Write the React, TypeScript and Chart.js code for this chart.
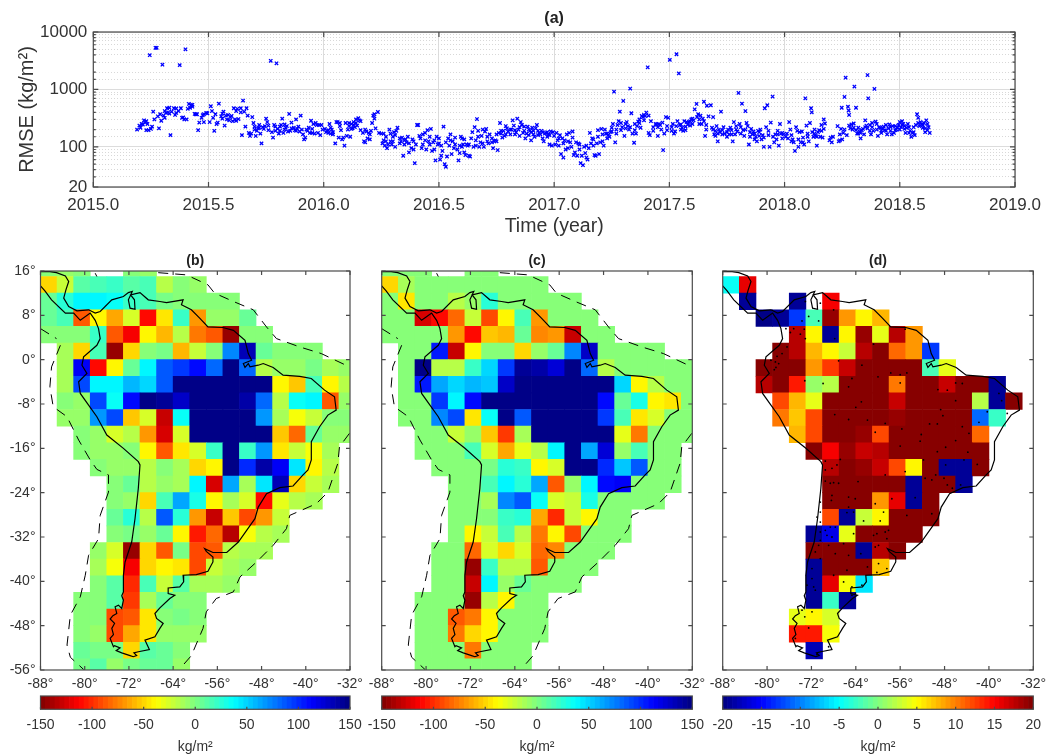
import React, { useEffect, useRef } from "react";
import { Chart, registerables } from "chart.js";

Chart.register(...registerables);
Chart.defaults.font.family = "'Liberation Sans', Arial, sans-serif";

const TEXT = "#333333";
const _ = null;

// ---------- Panel (a): RMSE time series [year, kg/m2] ----------
const rmse2015 = [
  [2015.19,200],[2015.2,235],[2015.205,215],[2015.21,250],[2015.215,245],[2015.22,290],[2015.225,265],[2015.23,195],[2015.235,250],[2015.24,195],
  [2015.245,3950],[2015.25,205],[2015.255,225],[2015.26,410],[2015.265,300],[2015.27,5300],[2015.275,5300],[2015.28,340],[2015.285,210],[2015.29,370],
  [2015.295,285],[2015.3,2700],[2015.305,350],[2015.31,320],[2015.315,390],[2015.32,470],[2015.325,400],[2015.33,380],[2015.335,160],[2015.34,410],
  [2015.35,470],[2015.355,360],[2015.36,465],[2015.37,420],[2015.375,2650],[2015.38,470],[2015.385,320],[2015.39,325],[2015.395,300],[2015.4,5000],
  [2015.405,300],[2015.41,460],[2015.415,560],[2015.42,480],[2015.425,530],[2015.43,500],[2015.44,375],[2015.445,370],[2015.45,370],[2015.455,195],
  [2015.46,265],[2015.47,320],[2015.475,355],[2015.48,270],[2015.49,390],[2015.495,385],[2015.505,270],[2015.51,510],[2015.515,420],[2015.52,320],
  [2015.525,190],[2015.535,250],[2015.54,265],[2015.545,565],[2015.555,340],[2015.56,310],[2015.565,410],[2015.57,235],[2015.575,350],[2015.58,300],
  [2015.585,360],[2015.595,330],[2015.6,345],[2015.605,280],[2015.61,470],[2015.615,300],[2015.62,285],[2015.625,460],[2015.63,305],[2015.64,400],
  [2015.645,160],[2015.65,640],[2015.655,410],[2015.66,225],[2015.665,470],[2015.67,350],[2015.675,175],[2015.68,155],[2015.685,170],[2015.69,330],
  [2015.695,260],[2015.7,225],[2015.705,155],[2015.71,190],[2015.715,210],[2015.72,215],[2015.725,170],[2015.73,115],[2015.735,220],[2015.74,205],
  [2015.745,230],[2015.75,310],[2015.755,270],[2015.76,195],[2015.77,3150],[2015.775,180],[2015.78,145],[2015.785,240],[2015.79,225],[2015.795,2850],
  [2015.8,205],[2015.805,170],[2015.81,190],[2015.815,240],[2015.82,310],[2015.825,175],[2015.83,200],[2015.835,215],[2015.84,230],[2015.845,185],
  [2015.85,375],[2015.855,190],[2015.86,265],[2015.87,215],[2015.875,195],[2015.88,300],[2015.885,205],[2015.89,225],[2015.895,185],[2015.9,350],
  [2015.905,200],[2015.91,165],[2015.915,135],[2015.92,145],[2015.925,200],[2015.935,215],[2015.94,175],[2015.945,285],[2015.95,205],[2015.955,250],
  [2015.96,170],[2015.965,260],[2015.97,240],[2015.975,175],[2015.98,240],[2015.985,160],[2015.99,240],[2015.995,200],
];
const rmse2016 = [
  [2016.005,205],[2016.01,180],[2016.015,190],[2016.02,175],[2016.025,250],[2016.03,170],[2016.035,200],[2016.04,180],[2016.05,115],[2016.055,270],
  [2016.06,270],[2016.065,145],[2016.07,230],[2016.075,195],[2016.08,135],[2016.085,145],[2016.09,105],[2016.095,260],[2016.1,155],[2016.105,200],
  [2016.11,230],[2016.115,150],[2016.12,250],[2016.125,210],[2016.13,270],[2016.135,220],[2016.14,300],[2016.145,235],[2016.15,315],[2016.155,290],
  [2016.16,195],[2016.17,175],[2016.175,125],[2016.18,120],[2016.185,185],[2016.19,140],[2016.195,175],[2016.2,135],[2016.205,190],[2016.21,260],
  [2016.215,350],[2016.22,370],[2016.225,210],[2016.235,405],[2016.24,175],[2016.25,170],[2016.255,115],[2016.26,170],[2016.265,105],[2016.27,150],
  [2016.275,95],[2016.28,110],[2016.285,200],[2016.29,125],[2016.295,110],[2016.3,150],[2016.305,180],[2016.31,100],[2016.315,190],[2016.32,215],
  [2016.33,140],[2016.335,125],[2016.34,145],[2016.345,70],[2016.35,110],[2016.355,135],[2016.36,120],[2016.365,150],[2016.37,80],[2016.38,95],
  [2016.385,135],[2016.39,90],[2016.395,52],[2016.4,110],[2016.405,240],[2016.41,240],[2016.415,155],[2016.42,140],[2016.425,95],[2016.43,165],
  [2016.44,175],[2016.445,90],[2016.45,195],[2016.455,125],[2016.46,110],[2016.465,205],[2016.47,85],[2016.475,120],[2016.48,90],[2016.485,58],
  [2016.49,150],[2016.495,110],[2016.5,115],[2016.505,60],[2016.51,70],[2016.515,85],[2016.52,225],[2016.525,50],[2016.53,45],[2016.535,68],
  [2016.54,140],[2016.545,105],[2016.55,165],[2016.555,75],[2016.56,125],[2016.565,95],[2016.57,145],[2016.58,90],[2016.585,58],[2016.59,78],
  [2016.595,150],[2016.6,140],[2016.605,110],[2016.61,80],[2016.615,72],[2016.62,110],[2016.625,105],[2016.63,70],[2016.635,68],[2016.64,140],
  [2016.645,180],[2016.65,100],[2016.655,220],[2016.66,105],[2016.665,305],[2016.67,190],[2016.675,100],[2016.68,120],[2016.685,155],[2016.69,200],
  [2016.695,100],[2016.7,185],[2016.705,205],[2016.71,125],[2016.715,115],[2016.72,165],[2016.73,120],[2016.735,95],[2016.74,125],[2016.745,130],
  [2016.75,165],[2016.755,88],[2016.76,175],[2016.765,260],[2016.77,170],[2016.775,145],[2016.78,190],[2016.785,155],[2016.79,230],[2016.795,210],
  [2016.8,185],[2016.81,165],[2016.815,200],[2016.82,290],[2016.825,235],[2016.83,195],[2016.835,180],[2016.84,310],[2016.845,200],[2016.85,155],
  [2016.855,270],[2016.86,240],[2016.865,175],[2016.87,225],[2016.875,140],[2016.88,170],[2016.885,225],[2016.89,200],[2016.895,190],[2016.9,130],
  [2016.905,215],[2016.91,165],[2016.915,150],[2016.92,210],[2016.925,240],[2016.93,190],[2016.935,175],[2016.94,165],[2016.945,190],[2016.95,180],
  [2016.955,125],[2016.96,170],[2016.965,175],[2016.97,150],[2016.975,165],[2016.98,110],[2016.985,185],[2016.99,105],[2016.995,180],
];
const rmse2017 = [
  [2017.005,110],[2017.01,175],[2017.015,130],[2017.02,105],[2017.025,160],[2017.03,75],[2017.035,140],[2017.04,65],[2017.045,130],[2017.05,90],
  [2017.055,165],[2017.06,95],[2017.065,175],[2017.07,120],[2017.075,100],[2017.08,185],[2017.085,72],[2017.09,80],[2017.095,120],[2017.1,70],
  [2017.105,115],[2017.11,90],[2017.115,52],[2017.12,70],[2017.125,48],[2017.13,100],[2017.135,78],[2017.14,65],[2017.145,60],[2017.15,95],
  [2017.155,175],[2017.16,115],[2017.165,140],[2017.17,135],[2017.175,72],[2017.18,70],[2017.185,115],[2017.19,195],[2017.195,75],[2017.2,120],
  [2017.205,205],[2017.21,125],[2017.215,105],[2017.22,200],[2017.225,170],[2017.23,140],[2017.235,160],[2017.24,150],[2017.245,180],[2017.25,185],
  [2017.255,250],[2017.26,915],[2017.265,120],[2017.27,170],[2017.275,240],[2017.28,280],[2017.285,410],[2017.29,260],[2017.295,220],[2017.3,630],
  [2017.305,155],[2017.31,210],[2017.315,270],[2017.32,230],[2017.325,200],[2017.33,1035],[2017.335,385],[2017.34,170],[2017.347,118],[2017.35,250],
  [2017.355,170],[2017.36,230],[2017.365,275],[2017.37,300],[2017.375,215],[2017.38,345],[2017.385,330],[2017.39,360],[2017.395,345],[2017.4,395],
  [2017.406,2430],[2017.41,175],[2017.415,160],[2017.42,280],[2017.43,190],[2017.44,250],[2017.445,245],[2017.45,155],[2017.455,250],[2017.46,240],
  [2017.465,200],[2017.473,88],[2017.478,170],[2017.485,330],[2017.49,195],[2017.495,320],[2017.502,3270],[2017.51,220],[2017.515,250],[2017.52,170],
  [2017.525,185],[2017.531,4100],[2017.535,280],[2017.541,1900],[2017.545,240],[2017.55,200],[2017.555,215],[2017.56,190],[2017.565,280],[2017.57,225],
  [2017.575,270],[2017.58,245],[2017.585,270],[2017.59,280],[2017.595,300],[2017.6,250],[2017.605,290],[2017.61,450],[2017.618,560],[2017.625,370],
  [2017.63,300],[2017.635,350],[2017.64,250],[2017.645,310],[2017.65,610],[2017.655,155],[2017.66,200],[2017.663,520],[2017.67,340],[2017.68,530],
  [2017.685,215],[2017.69,330],[2017.695,165],[2017.7,190],[2017.705,230],[2017.71,125],[2017.715,200],[2017.72,180],[2017.724,410],[2017.73,165],
  [2017.735,220],[2017.74,170],[2017.75,180],[2017.755,200],[2017.76,165],[2017.765,215],[2017.77,195],[2017.775,125],[2017.78,270],[2017.785,165],
  [2017.79,230],[2017.795,185],[2017.8,870],[2017.805,250],[2017.81,170],[2017.815,565],[2017.82,195],[2017.825,155],[2017.83,420],[2017.835,260],
  [2017.84,230],[2017.845,110],[2017.85,150],[2017.855,205],[2017.86,165],[2017.865,185],[2017.87,135],[2017.875,150],[2017.88,125],[2017.885,190],
  [2017.89,155],[2017.895,200],[2017.9,135],[2017.905,160],[2017.91,100],[2017.914,470],[2017.92,220],[2017.925,530],[2017.93,160],[2017.935,100],
  [2017.94,265],[2017.948,750],[2017.955,120],[2017.96,165],[2017.965,135],[2017.97,165],[2017.975,105],[2017.98,250],[2017.985,170],[2017.99,175],[2017.995,165],
];
const rmse2018 = [
  [2018.005,150],[2018.015,140],[2018.02,270],[2018.025,200],[2018.03,125],[2018.035,135],[2018.04,120],[2018.045,85],[2018.05,220],[2018.055,190],
  [2018.06,100],[2018.065,180],[2018.07,120],[2018.075,185],[2018.08,145],[2018.085,110],[2018.09,700],[2018.095,235],[2018.1,150],[2018.105,125],
  [2018.11,260],[2018.115,470],[2018.118,400],[2018.125,150],[2018.13,200],[2018.135,155],[2018.14,105],[2018.145,180],[2018.15,195],[2018.155,150],
  [2018.16,240],[2018.165,145],[2018.17,300],[2018.175,255],[2018.195,130],[2018.2,145],[2018.205,120],[2018.21,150],[2018.23,230],[2018.235,125],
  [2018.24,130],[2018.245,205],[2018.248,480],[2018.25,135],[2018.255,175],[2018.26,740],[2018.265,1600],[2018.27,160],[2018.275,500],[2018.278,430],
  [2018.28,360],[2018.285,210],[2018.29,245],[2018.295,200],[2018.3,255],[2018.303,1120],[2018.31,480],[2018.315,170],[2018.32,215],[2018.325,185],
  [2018.33,140],[2018.335,195],[2018.34,205],[2018.345,165],[2018.35,290],[2018.355,235],[2018.36,1780],[2018.363,700],[2018.37,240],[2018.375,165],
  [2018.38,260],[2018.385,190],[2018.39,1020],[2018.395,275],[2018.4,250],[2018.405,155],[2018.41,220],[2018.415,215],[2018.42,190],[2018.425,205],
  [2018.43,225],[2018.435,195],[2018.44,240],[2018.445,165],[2018.45,210],[2018.455,245],[2018.46,220],[2018.465,165],[2018.47,230],[2018.475,175],
  [2018.48,230],[2018.485,200],[2018.49,215],[2018.495,240],[2018.5,270],[2018.505,220],[2018.51,280],[2018.515,250],[2018.52,230],[2018.525,175],
  [2018.53,215],[2018.535,250],[2018.54,175],[2018.545,190],[2018.55,150],[2018.555,175],[2018.56,220],[2018.565,160],[2018.57,240],[2018.575,370],
  [2018.58,320],[2018.585,230],[2018.59,270],[2018.595,245],[2018.6,215],[2018.605,260],[2018.61,180],[2018.615,290],[2018.62,195],[2018.625,220],[2018.63,175],
];
const rmseDense = [
  [2015.23,280],[2015.31,420],[2015.33,480],[2015.36,390],[2015.43,540],[2015.48,370],[2015.53,370],[2015.56,380],[2015.59,290],[2015.62,420],
  [2015.64,470],[2015.7,200],[2015.72,240],[2015.76,235],[2015.79,190],[2015.81,225],[2015.83,245],[2015.86,210],[2015.88,190],[2015.93,190],
  [2015.95,175],[2016.02,195],[2016.03,215],[2016.04,165],[2016.07,260],[2016.11,260],[2016.12,205],[2016.13,240],[2016.14,260],[2016.16,280],
  [2016.18,200],[2016.2,165],[2016.22,310],[2016.26,130],[2016.27,125],[2016.29,170],[2016.3,125],[2016.31,160],[2016.33,115],[2016.35,130],
  [2016.37,115],[2016.39,125],[2016.43,110],[2016.44,130],[2016.46,150],[2016.48,130],[2016.5,140],[2016.51,105],[2016.53,120],[2016.55,130],
  [2016.57,110],[2016.59,105],[2016.6,100],[2016.61,135],[2016.63,110],[2016.66,130],[2016.67,150],[2016.69,115],[2016.71,150],[2016.73,140],
  [2016.75,125],[2016.77,190],[2016.79,165],[2016.81,200],[2016.83,165],[2016.85,220],[2016.87,190],[2016.89,160],[2016.9,180],[2016.91,190],
  [2016.93,160],[2016.95,140],[2016.97,180],[2016.98,160],[2017,155],[2017.02,140],[2017.04,115],[2017.06,125],[2017.08,145],[2017.11,110],
  [2017.14,105],[2017.17,105],[2017.19,150],[2017.21,165],[2017.23,170],[2017.25,215],[2017.27,200],[2017.29,195],[2017.31,250],[2017.33,220],
  [2017.35,195],[2017.37,260],[2017.39,290],[2017.41,350],[2017.43,220],[2017.45,220],[2017.47,265],[2017.49,230],[2017.51,190],[2017.53,230],
  [2017.55,245],[2017.57,195],[2017.59,235],[2017.6,310],[2017.62,330],[2017.63,250],[2017.65,280],[2017.66,240],[2017.69,200],[2017.7,155],
  [2017.71,170],[2017.73,195],[2017.75,150],[2017.77,165],[2017.79,200],[2017.81,220],[2017.83,200],[2017.85,180],[2017.87,170],[2017.89,180],
  [2017.91,145],[2017.93,190],[2017.95,150],[2017.97,190],[2017.99,140],[2018.01,170],[2018.03,160],[2018.06,135],[2018.08,120],[2018.1,170],
  [2018.12,180],[2018.13,170],[2018.14,150],[2018.16,190],[2018.17,205],[2018.24,165],[2018.26,200],[2018.28,235],[2018.3,215],[2018.31,195],
  [2018.32,170],[2018.33,175],[2018.35,220],[2018.36,210],[2018.37,190],[2018.38,220],[2018.4,200],[2018.42,175],[2018.44,190],[2018.46,190],
  [2018.48,195],[2018.5,200],[2018.51,240],[2018.52,205],[2018.54,220],[2018.56,180],[2018.58,260],[2018.6,240],[2018.61,210],[2018.62,250],
];
const rmseTicks = [20, 100, 1000, 10000];

// ---------- Panels (b)-(d): gridded values, 3-degree cells ----------
const rowTopLat = [18,15,12,9,6,3,0,-3,-6,-9,-12,-15,-18,-21,-24,-27,-30,-33,-36,-39,-42,-45,-48,-51,-54];
const firstCellWestLon = -88;
const cellDeg = 3;

const panelB = [
  [0,-5,-3,_,_,-2,-5],
  [-50,-20,10,15,20,10,15,-15,0,-5],
  [5,25,38,42,35,20,15,3,0,0,0,-3],
  [8,17,-85,-40,-65,-25,-110,-45,20,-70,-5,-5,5],
  [0,0,0,20,-85,-115,-40,-60,-15,-75,-85,-145,0,0],
  [_,-10,-50,15,-145,-48,-2,2,-60,-20,0,75,135,8,0,-2,-2],
  [_,-10,115,-110,-38,8,38,85,95,112,80,150,80,-15,-8,-8,2,-10,-8],
  [_,-10,90,40,40,60,50,85,150,150,150,150,150,150,-42,-55,15,-40,-18],
  [_,-2,-5,90,33,112,150,145,130,150,150,150,140,80,-18,35,38,-85,-5],
  [_,-8,-8,70,90,-55,-25,-130,35,150,150,150,150,70,-12,-35,-22,-3,-3],
  [_,_,-3,-8,-25,-15,-70,-125,-25,150,150,150,150,150,-55,-80,5,-8,-8],
  [_,_,-3,-5,-5,-2,-40,-85,-45,-28,20,150,20,70,-45,-20,-35,-12],
  [_,_,_,0,-5,-5,-15,-3,-12,-50,-38,150,100,140,115,45,-38,-15],
  [_,_,_,_,-3,5,-15,-8,-12,40,-125,65,-10,45,135,-50,-20,-12],
  [_,_,_,_,0,-8,-50,18,62,30,-42,-10,-25,-110,-30,-15,-12],
  [_,_,_,_,5,28,-15,85,28,-70,-130,-55,-90,-70,-22],
  [_,_,_,_,0,2,-5,5,-40,-105,-80,-135,-35,-18,-10],
  [_,_,_,-8,-28,-145,-50,-85,3,-90,-88,-15,-12,-10],
  [_,_,_,-10,-35,-115,-50,-38,-45,-90,-22,-10,-5],
  [_,_,_,-3,10,-100,18,-20,12,-10,-10,-8],
  [_,_,-1,0,10,-95,-12,5,0,0],
  [_,_,0,-3,-90,-85,-45,-2,3,0],
  [_,_,0,-8,-90,-65,-45,-5,-5,-5],
  [_,_,5,3,3,-50,10,5,0],
  [_,_,3,12,-5,3,5,8,-8],
];

const panelC = [
  [0,0,0,_,_,0,0],
  [-50,-10,0,0,0,0,0,0,0,0],
  [0,-45,0,0,-15,-5,25,0,0,0,0,0],
  [0,0,-125,-110,-80,-22,-90,-40,18,-70,0,0,0],
  [0,0,0,0,-70,-110,-55,-60,5,-72,-70,-130,0,0],
  [_,0,0,105,-130,-38,0,0,-50,-8,8,75,130,0,0,0,0],
  [_,0,150,-18,-18,20,48,95,145,140,125,150,80,-18,0,0,0,0,0],
  [_,0,105,65,50,60,52,130,150,150,150,150,150,150,48,-38,-18,0,0],
  [_,0,0,95,38,112,150,150,150,150,150,150,150,112,5,30,-38,-45,0],
  [_,0,0,72,92,-45,35,150,85,150,150,150,150,95,15,-45,-28,0,0],
  [_,_,0,0,-20,-5,-55,-95,-10,150,150,150,150,150,-32,-75,0,0,0],
  [_,_,0,0,0,18,-25,-62,-30,-15,42,150,62,125,-5,15,0,0],
  [_,_,_,0,0,0,3,25,20,-38,-25,150,150,100,55,85,0,0],
  [_,_,_,_,0,0,15,42,25,62,-85,-5,42,110,115,0,0,0],
  [_,_,_,_,0,0,-10,75,85,35,-28,-22,30,0,0,0,0],
  [_,_,_,_,0,0,-3,20,28,-62,-100,-20,-40,0,0],
  [_,_,_,_,0,-38,-20,15,-15,-78,-42,-92,0,0,0],
  [_,_,_,0,0,-80,-27,-50,-25,-80,-72,0,0,0],
  [_,_,_,0,0,-145,22,-15,-15,-88,0,0,0],
  [_,_,_,0,0,-130,40,-5,8,0,0,0],
  [_,_,0,0,0,-145,-15,-38,0,0],
  [_,_,0,0,-85,-78,-38,0,0,0],
  [_,_,0,0,-78,-50,-40,0,0,0],
  [_,_,0,0,0,-78,0,0,0],
  [_,_,0,0,0,0,0,0,0],
];

const panelD = [
  [],
  [-5,16],
  [_,-19,_,_,-19,_,15],
  [_,_,-20,-19,-13,-2,19,9,5,8],
  [_,_,_,_,18,5,-19,5,19,4,18,9],
  [_,_,_,20,18,8,5,3,18,20,11,9,-13],
  [_,_,20,20,20,9,13,17,20,20,20,20,-2,4],
  [_,_,18,20,14,1,2,20,20,20,10,20,20,17,20,20,-19],
  [_,_,_,12,8,4,20,20,20,20,17,20,20,20,20,2,-19,20],
  [_,_,_,10,7,12,20,20,20,20,19,20,20,20,20,-11,-3],
  [_,_,_,_,8,12,20,20,19,12,20,20,20,20,20,11],
  [_,_,_,_,_,20,15,19,17,18,20,20,20,20,20,20],
  [_,_,_,_,_,_,18,20,19,17,12,5,20,-19,-19,20],
  [_,_,_,_,_,_,20,20,20,20,20,-19,20,20,-19],
  [_,_,_,_,_,_,20,20,20,9,16,-19,20],
  [_,_,_,_,_,_,12,-19,3,5,20,20,20],
  [_,_,_,_,_,-19,-16,4,20,20,20,20],
  [_,_,_,_,_,20,20,20,-19,18,20],
  [_,_,_,_,_,-19,20,20,20,7],
  [_,_,_,_,_,-19,16,4.5,-6],
  [_,_,_,_,_,-19,-3,-19],
  [_,_,_,_,4,5,3.5],
  [_,_,_,_,14,14,4.5],
  [_,_,_,_,_,-18],
  [],
];

// Coastline, [lon, lat]
const coastLon = [-88,-86.3,-85.1,-83.5,-82.9,-83.4,-83.8,-82.9,-81.4,-79.3,-78.1,-77.2,-75.1,-73,-72.1,-71.4,-72.1,-71.8,-70.9,-71,-71.7,-70,-68.5,-66.4,-65.2,-62.2,-62.5,-60.7,-59.2,-57.7,-55,-53.1,-51,-50.4,-49.8,-51.3,-51,-50.4,-50.1,-48.6,-47.7,-45.9,-44.1,-41.1,-39,-36.6,-34.8,-34.5,-36,-37.5,-39,-39,-39.6,-40.5,-42.3,-44.7,-47.1,-48.6,-49.2,-50.7,-52.2,-54.3,-56.8,-58.3,-58,-56.8,-56.8,-57.7,-59.8,-62.2,-62.1,-62.8,-64.9,-64.9,-63.7,-64.6,-66.4,-67.3,-67,-65.8,-66.4,-67.3,-69.1,-68.3,-70.3,-71.1,-70.6,-71.2,-71.8,-73.3,-74.3,-73.6,-74.6,-74.8,-75.4,-74.8,-75.1,-74.6,-75.4,-74.9,-74.2,-74.5,-73.9,-73.3,-73,-73.3,-73,-73,-72.7,-71.5,-70.9,-70.3,-70,-70.3,-73,-76,-77.8,-79.3,-80.8,-81.1,-79.6,-80.5,-80.2,-77.8,-77.2,-77.5,-78.1,-79,-80.8,-82,-83.5,-86,-87.2,-88];
const coastLat = [15.9,15.9,15.7,15.1,14.1,12.6,11.1,9.6,8.8,9,8.4,8.7,10.8,11.4,12.1,12.3,10.8,9.3,9.1,10.8,11.7,12.1,10.8,10.5,10.3,10.8,9.9,9,7.5,5.9,5.8,5.3,3.5,1.1,-0.1,-0.7,-1.4,-0.7,-1.3,-1,-0.7,-1.4,-2.8,-3,-3.4,-5.5,-6.7,-9.1,-10,-12.1,-14.8,-18.1,-19.9,-20.8,-22.8,-23.1,-24.2,-26.6,-28.7,-30.8,-32.9,-34.8,-34.8,-34.1,-34.6,-35.6,-36.5,-38.2,-38.8,-38.9,-40.1,-41,-41.2,-42.2,-42.5,-43.1,-44.8,-45.8,-46.7,-47.6,-48.5,-50,-50.6,-52.3,-52.7,-52.9,-53.4,-53.6,-53.4,-52.9,-52.5,-52,-51.6,-51.8,-50.3,-49.6,-48.5,-47.6,-46.8,-46.2,-45.8,-44.6,-44.3,-44.9,-43.4,-42.6,-41.9,-38.9,-36.5,-32.9,-28.7,-23.2,-19,-18.4,-16,-13.6,-10.3,-8.2,-6.1,-4,-2.5,-1,0.5,2.6,3.8,5.6,7.1,8.4,7.1,8.4,8.4,10.8,12.4,13.3];

// Dashed offshore limit, separated pieces
const limitPieces = [
  [[-78.1,15.6],[-77.8,15]],
  [[-66.7,15.7],[-61.6,15.3],[-57.7,13.5],[-56.5,12],[-53.1,10.5],[-49.5,9],[-47.1,5.9],[-45.3,3.8],[-41.1,2.3],[-37.2,1.1],[-32.1,-1.3]],
  [[-88,5.6],[-85.1,3.8]],
  [[-84.4,2.6],[-86,-1.3],[-86.3,-4.9],[-85.7,-8.5],[-83.2,-10.3],[-81.1,-14.5],[-79,-18.1],[-77.8,-19.8],[-75.7,-20.8],[-75.7,-23.9],[-77.2,-28.1],[-77.5,-32.3],[-79.3,-35.3],[-79.9,-38.9],[-80.8,-42.8],[-82.6,-46.1],[-83.2,-51.5],[-82.6,-53.7],[-80.2,-55.9]],
  [[-32.1,-13.3],[-33.9,-15.7],[-34.2,-18.7],[-36,-23.9],[-38.1,-26],[-42.9,-28.1],[-43.5,-30.5],[-45.9,-33.5],[-48.9,-36.5],[-51.9,-39.2],[-53.1,-41.9],[-56.2,-43.1],[-58,-45.5],[-58.6,-48.5],[-60.7,-53.4],[-62.8,-55.8]],
];

// Stations in panel (d), [lon, lat]
const stations = [
  [-73.1,10.5],[-70.4,10.2],[-68,9],[-73.7,7],[-72.5,7.8],[-70.7,7],[-76.6,5.6],[-75.2,5.6],[-75.8,4.9],[-74,4.6],[-73.3,5.5],[-73.1,3.8],[-67.8,3.8],[-76.4,2.3],[-77.3,1.1],[-78.2,0.6],[-79.3,-0.1],[-78.5,-0.4],[-77.9,-0.7],[-78.4,-1.4],[-78.7,-1.8],[-67.1,-0.2],[-62.9,-1],[-60.8,2.8],[-55.1,5.5],[-54.8,-2.4],[-57.7,-2.4],[-56,-2.7],[-60,-3.1],[-64.7,-3.4],[-65.3,-4.9],[-73.2,-3.8],[-69.9,-4.3],[-56,-4.2],[-49.2,-5.4],[-47.5,-5.5],[-46,-4.2],[-44.8,-4.3],[-38.2,-6.1],[-37.7,-7.4],[-63,-7.6],[-64,-8.6],[-46,-7.4],[-48.7,-9],[-48.3,-10.1],[-67.8,-9.9],[-65.3,-10.8],[-61.9,-10.9],[-58.7,-11.5],[-50.7,-11.6],[-49.3,-11.6],[-44.8,-12.1],[-43.6,-13.3],[-60.5,-13.1],[-55.7,-12.5],[-52.2,-13.5],[-52.4,-14.7],[-46,-14.6],[-56,-15.6],[-47.8,-15.8],[-49.3,-16.6],[-43.8,-16.7],[-41.8,-11.3],[-40.3,-9.4],[-36.7,-9.7],[-66.8,-18],[-69.5,-18.3],[-67.4,-19],[-51.8,-18.1],[-47.8,-19],[-42.1,-18.9],[-44.5,-18.1],
  [-69.5,-19.9],[-68.3,-19.6],[-51.5,-21.4],[-50.3,-21.7],[-49.6,-20.8],[-48.1,-21.4],[-47.5,-22.6],[-46.6,-23.2],[-45.1,-22.6],[-69.5,-21.9],[-68.6,-22.3],[-68,-22.2],[-67.1,-22.3],[-63.6,-22],[-58.7,-20.8],[-55.1,-20.2],[-68.3,-24.5],[-68.4,-25.4],[-64.1,-25.1],[-65.3,-24.8],[-60.5,-26],[-57.5,-25.1],[-53.3,-24.9],[-70.4,-25.7],[-65.3,-26.6],[-70.4,-27.5],[-71,-28.4],[-70.4,-29.3],[-65.6,-27.6],[-64.4,-27.5],[-62.6,-29.1],[-59,-27.5],[-59.6,-29.1],[-54.8,-28.1],[-50.3,-27.8],[-69.5,-30.8],[-68.6,-30.2],[-67.7,-30.2],[-68.3,-32],[-69.2,-31.7],[-70.4,-31.1],[-70.4,-32.6],[-64.4,-31.4],[-60.8,-31.7],[-60.2,-31.4],[-58.7,-31.1],[-58.1,-30.8],[-58.4,-32.3],[-63.1,-35],[-70.7,-33.5],[-71.3,-34.7],[-68.9,-33.5],[-67.7,-35],[-66.2,-33.2],[-65.3,-35.3],[-60.5,-33.8],[-59.9,-33.5],[-70.4,-35.9],[-59.9,-36.8],[-58.4,-37.7],[-60.2,-38.4],[-61.9,-37.4],[-68,-38.9],[-65.6,-38],[-71.9,-37.7],[-71.9,-39.5],[-71.6,-41],[-72.8,-40.7],[-71.3,-41.6],[-66.2,-40.1],[-64.7,-41],[-62.9,-40.7],[-64.7,-42.5],[-64.1,-42.2],[-71.9,-45.5],[-73.2,-46.4],[-72.5,-48.4],[-74.9,-50.3],[-73.7,-45.2],[-68.9,-51.8],[-71,-53.2],
];

// ---------- colour map ----------
const LEVELS = 64;
const clamp01 = (v: number) => Math.max(0, Math.min(1, v));
function jet(t: number) {
  const q = Math.min(LEVELS - 1, Math.floor(clamp01(t) * LEVELS));
  const s = (q + 0.5) / LEVELS;
  const c = (o: number) => Math.round(255 * clamp01(1.5 - Math.abs(4 * s - o)));
  return `rgb(${c(3)},${c(2)},${c(1)})`;
}
const colourOf = (v: number, range: number, reversed: boolean) => {
  const t = (v + range) / (2 * range);
  return jet(reversed ? 1 - t : t);
};

// ---------- frame + inward ticks, through the chart's scales ----------
function framePlugin(o: { inner?: number; minor?: number; sides?: string }) {
  return {
    id: "frame",
    afterDatasetsDraw(chart: any) {
      const { ctx, chartArea: a, scales } = chart;
      const len = o.inner ?? 4;
      const sides = o.sides ?? "lrtb";
      ctx.save();
      ctx.strokeStyle = "#4a4a4a";
      ctx.lineWidth = 1.2;
      ctx.beginPath();
      scales.x.ticks.forEach((t: any) => {
        const x = scales.x.getPixelForValue(t.value);
        if (sides.includes("b")) { ctx.moveTo(x, a.bottom); ctx.lineTo(x, a.bottom - len); }
        if (sides.includes("t")) { ctx.moveTo(x, a.top); ctx.lineTo(x, a.top + len); }
      });
      if (scales.y.options.display) {
        scales.y.ticks.forEach((t: any) => {
          const y = scales.y.getPixelForValue(t.value);
          const major = !o.minor || rmseTicks.includes(t.value);
          const l = major ? len : o.minor!;
          if (sides.includes("l")) { ctx.moveTo(a.left, y); ctx.lineTo(a.left + l, y); }
          if (sides.includes("r")) { ctx.moveTo(a.right, y); ctx.lineTo(a.right - l, y); }
        });
      }
      ctx.stroke();
      ctx.strokeRect(a.left, a.top, a.right - a.left, a.bottom - a.top);
      ctx.restore();
    },
  };
}

// ---------- chart configs ----------
function rmseConfig() {
  const points = [...rmse2015, ...rmse2016, ...rmse2017, ...rmse2018, ...rmseDense].map(([x, y]) => ({ x, y }));
  return {
    type: "scatter",
    data: {
      datasets: [{
        data: points,
        pointStyle: "crossRot",
        pointRadius: 2.4,
        borderColor: "#0000ff",
        backgroundColor: "#0000ff",
        pointBorderWidth: 1.3,
      }],
    },
    options: {
      responsive: false,
      animation: false,
      events: [],
      layout: { padding: { left: 15, right: 52, top: 9, bottom: 1.3 } },
      plugins: {
        legend: { display: false },
        tooltip: { enabled: false },
        title: { display: true, fullSize: false, text: "(a)", color: "#222", font: { size: 16, weight: "bold" }, padding: { top: 0, bottom: 3.8 } },
      },
      scales: {
        x: {
          type: "linear", min: 2015, max: 2019,
          afterFit: (s: any) => { s.height = 51.7; },
          border: { display: false },
          grid: { color: "#dcdcdc", lineWidth: 1, drawTicks: false },
          ticks: { stepSize: 0.5, color: TEXT, font: { size: 17 }, padding: 8, maxRotation: 0, autoSkip: false, callback: (v: number) => v.toFixed(1) },
          title: { display: true, text: "Time (year)", color: TEXT, font: { size: 19.5 }, padding: 0 },
        },
        y: {
          type: "logarithmic", min: 20, max: 10000,
          afterFit: (s: any) => { s.width = 78.3; },
          border: { display: false, dash: (c: any) => (rmseTicks.includes(c.tick?.value) ? [] : [1, 2]) },
          grid: {
            drawTicks: false,
            color: (c: any) => (rmseTicks.includes(c.tick?.value) ? "#dcdcdc" : "#d8d8d8"),
            lineWidth: 1,
          },
          ticks: { color: TEXT, font: { size: 17 }, padding: 6, autoSkip: false, callback: (v: number) => (rmseTicks.includes(v) ? String(v) : "") },
          title: { display: true, text: "RMSE (kg/m²)", color: TEXT, font: { size: 20 }, padding: 0 },
        },
      },
    },
    plugins: [framePlugin({ inner: 5, minor: 2.5 })],
  };
}

function mapConfig(o: { title: string; rows: (number | null)[][]; range: number; reversed: boolean; limit: boolean; dots: boolean; yWidth: number; yLabels: boolean; right: number }) {
  const cells: any[] = [];
  const colours: string[] = [];
  o.rows.forEach((row, r) => {
    row.forEach((v, c) => {
      if (v === null) return;
      cells.push({ x: firstCellWestLon + cellDeg * (c + 0.5), y: [rowTopLat[r] - cellDeg, rowTopLat[r]] });
      colours.push(colourOf(v, o.range, o.reversed));
    });
  });
  const datasets: any[] = [];
  if (o.dots) {
    datasets.push({
      type: "scatter", order: 1,
      data: stations.map(([x, y]) => ({ x, y })),
      pointStyle: "circle", pointRadius: 0.9, borderWidth: 0, backgroundColor: "#000",
    });
  }
  datasets.push({
    type: "line", order: 2,
    data: coastLon.map((x, i) => ({ x, y: coastLat[i] })),
    borderColor: "#000", borderWidth: 1.2, pointRadius: 0, tension: 0,
  });
  if (o.limit) {
    const limit: any[] = [];
    limitPieces.forEach((p) => {
      p.forEach(([x, y]) => limit.push({ x, y }));
      limit.push({ x: p[p.length - 1][0], y: null });
    });
    datasets.push({
      type: "line", order: 3, data: limit, spanGaps: false,
      borderColor: "#000", borderWidth: 1, borderDash: [10, 7], pointRadius: 0, tension: 0,
    });
  }
  datasets.push({
    type: "bar", order: 4, data: cells, backgroundColor: colours, borderWidth: 0,
    barPercentage: 1, categoryPercentage: 1, grouped: false,
  });
  return {
    type: "bar",
    data: { datasets },
    options: {
      responsive: false,
      animation: false,
      events: [],
      layout: { padding: { left: 0, right: o.right, top: 2.6, bottom: 0 } },
      plugins: {
        legend: { display: false },
        tooltip: { enabled: false },
        title: { display: true, fullSize: false, text: o.title, color: "#222", font: { size: 14, weight: "bold" }, padding: { top: 0, bottom: 1.6 } },
      },
      scales: {
        x: {
          type: "linear", min: -88, max: -32, offset: false,
          afterFit: (s: any) => { s.height = 25; },
          border: { display: false },
          grid: { display: false, offset: false, drawTicks: false },
          ticks: { stepSize: 8, color: TEXT, font: { size: 14 }, padding: 6, maxRotation: 0, autoSkip: false, callback: (v: number) => `${v}°` },
        },
        y: {
          type: "linear", min: -56, max: 16,
          afterFit: (s: any) => { s.width = o.yWidth; },
          border: { display: false },
          grid: { display: false, drawTicks: false },
          ticks: { stepSize: 8, display: o.yLabels, color: TEXT, font: { size: 14 }, padding: 5, autoSkip: false, callback: (v: number) => `${v}°` },
        },
      },
    },
    plugins: [framePlugin({ inner: 4 })],
  };
}

function colourbarConfig(o: { range: number; step: number; reversed: boolean; left: number; right: number }) {
  const seg: any[] = [];
  const colours: string[] = [];
  for (let i = 0; i < LEVELS; i++) {
    const v = -o.range + ((i + 0.5) * 2 * o.range) / LEVELS;
    seg.push({ x: v, y: [0, 1] });
    colours.push(colourOf(v, o.range, o.reversed));
  }
  return {
    type: "bar",
    data: { datasets: [{ data: seg, backgroundColor: colours, borderWidth: 0, barPercentage: 1, categoryPercentage: 1, grouped: false }] },
    options: {
      responsive: false,
      animation: false,
      events: [],
      layout: { padding: { left: o.left, right: o.right, top: 6, bottom: 4.9 } },
      plugins: { legend: { display: false }, tooltip: { enabled: false } },
      scales: {
        x: {
          type: "linear", min: -o.range, max: o.range, offset: false,
          afterFit: (s: any) => { s.height = 45.8; },
          border: { display: false },
          grid: { display: false, offset: false, drawTicks: false },
          ticks: { stepSize: o.step, color: TEXT, font: { size: 14 }, padding: 7.5, maxRotation: 0, autoSkip: false },
          title: { display: true, text: "kg/m²", color: TEXT, font: { size: 14 }, padding: 0 },
        },
        y: { type: "linear", min: 0, max: 1, display: false },
      },
    },
    plugins: [framePlugin({ inner: 2.5, sides: "b" })],
  };
}

// ---------- components ----------
function Panel({ left, top, width, height, make }: { left: number; top: number; width: number; height: number; make: () => any }) {
  const ref = useRef<HTMLCanvasElement | null>(null);
  useEffect(() => {
    const chart = new Chart(ref.current as HTMLCanvasElement, make());
    return () => chart.destroy();
  }, []);
  return <canvas ref={ref} width={width} height={height} style={{ position: "absolute", left, top, width, height, display: "block" }} />;
}

export default function App() {
  return (
    <div style={{ position: "absolute", left: 0, top: 0, width: 1047, height: 754, overflow: "hidden", background: "#fff" }}>
      <Panel left={0} top={0} width={1067} height={240} make={rmseConfig} />
      <Panel left={0} top={250} width={380} height={445} make={() => mapConfig({ title: "(b)", rows: panelB, range: 150, reversed: true, limit: true, dots: false, yWidth: 40.5, yLabels: true, right: 30 })} />
      <Panel left={351} top={250} width={380} height={445} make={() => mapConfig({ title: "(c)", rows: panelC, range: 150, reversed: true, limit: true, dots: false, yWidth: 30.7, yLabels: false, right: 38.7 })} />
      <Panel left={690} top={250} width={380} height={445} make={() => mapConfig({ title: "(d)", rows: panelD, range: 20, reversed: false, limit: false, dots: true, yWidth: 32.7, yLabels: false, right: 36.7 })} />
      <Panel left={0} top={690} width={380} height={70} make={() => colourbarConfig({ range: 150, step: 50, reversed: true, left: 40.5, right: 30 })} />
      <Panel left={351} top={690} width={380} height={70} make={() => colourbarConfig({ range: 150, step: 50, reversed: true, left: 30.7, right: 38.7 })} />
      <Panel left={690} top={690} width={380} height={70} make={() => colourbarConfig({ range: 20, step: 5, reversed: false, left: 32.7, right: 36.7 })} />
    </div>
  );
}
